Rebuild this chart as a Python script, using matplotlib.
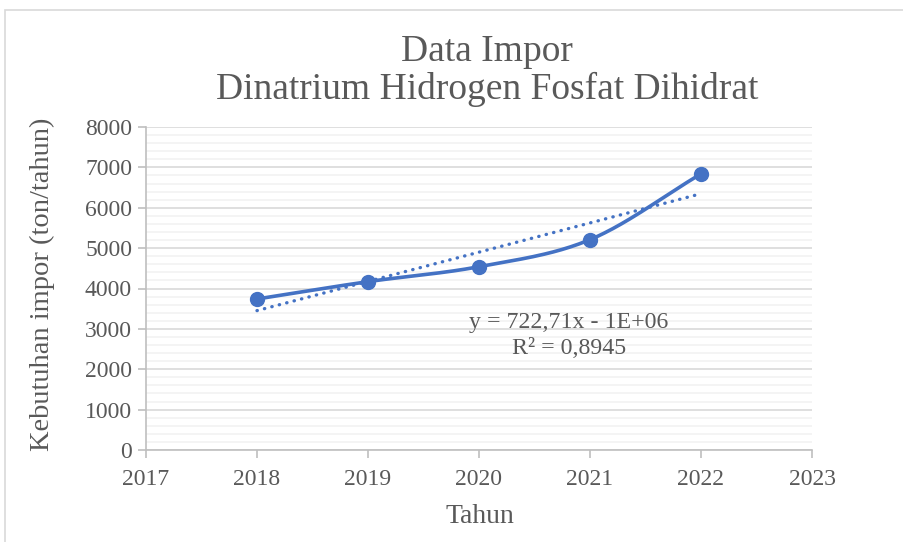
import numpy as np
import matplotlib.pyplot as plt
from matplotlib.patches import Rectangle
from matplotlib.ticker import MultipleLocator

years = [2018, 2019, 2020, 2021, 2022]
impor = [3740, 4170, 4540, 5210, 6840]
x_ticks = [2017, 2018, 2019, 2020, 2021, 2022, 2023]
y_ticks = [0, 1000, 2000, 3000, 4000, 5000, 6000, 7000, 8000]
title = "Data Impor\nDinatrium Hidrogen Fosfat Dihidrat"
eq_text = "y = 722,71x - 1E+06\nR² = 0,8945"

BLUE = "#4472C4"
GREY = "#595959"


def smooth(xs, ys, n=40):
    # Catmull-Rom style smoothing similar to Excel's "smoothed line"
    xs = np.asarray(xs, float)
    ys = np.asarray(ys, float)
    px = np.concatenate([[2 * xs[0] - xs[1]], xs, [2 * xs[-1] - xs[-2]]])
    py = np.concatenate([[2 * ys[0] - ys[1]], ys, [2 * ys[-1] - ys[-2]]])
    outx, outy = [], []
    for i in range(1, len(px) - 2):
        t = np.linspace(0, 1, n)
        for p, out in ((px, outx), (py, outy)):
            p0, p1, p2, p3 = p[i - 1], p[i], p[i + 1], p[i + 2]
            out.extend(0.5 * ((2 * p1) + (-p0 + p2) * t
                              + (2 * p0 - 5 * p1 + 4 * p2 - p3) * t ** 2
                              + (-p0 + 3 * p1 - 3 * p2 + p3) * t ** 3))
    return np.array(outx), np.array(outy)


plt.rcParams['font.family'] = ['Liberation Serif', 'DejaVu Serif']

fig = plt.figure(figsize=(9.04, 5.42), dpi=100)
fig.patches.append(Rectangle((5 / 904, -0.01), 1.0, 1 - 10 / 542 + 0.01,
                             transform=fig.transFigure, fill=False,
                             edgecolor="#D9D9D9", linewidth=1.2))
ax = fig.add_axes([146 / 904, 92 / 542, 666 / 904, 323 / 542])

sx, sy = smooth(years, impor)
ax.plot(sx, sy, color=BLUE, linewidth=2.6, zorder=3, solid_capstyle='round')
ax.plot(years, impor, 'o', color=BLUE, markersize=10, zorder=4)

slope, icpt = np.polyfit(years, impor, 1)
tx = np.array([years[0], years[-1]])
ax.plot(tx, slope * tx + icpt, color=BLUE, linewidth=2.4,
        linestyle=(0, (0.1, 2.2)), dash_capstyle='round', zorder=3)

ax.text(2020.81, 2830, eq_text, ha='center', va='center', fontsize=17.2,
        color=GREY, linespacing=1.3)

ax.set_xlim(2017, 2023)
ax.set_ylim(0, 8000)
ax.set_xticks(x_ticks)
ax.set_yticks(y_ticks)
ax.yaxis.set_minor_locator(MultipleLocator(200))
ax.grid(True, which='major', axis='y', color="#D9D9D9", linewidth=1.2)
ax.grid(True, which='minor', axis='y', color="#F2F2F2", linewidth=1.2)
ax.set_axisbelow(True)
for s in ('top', 'right'):
    ax.spines[s].set_visible(False)
for s in ('left', 'bottom'):
    ax.spines[s].set_color("#BFBFBF")
    ax.spines[s].set_linewidth(1.2)
ax.tick_params(axis='both', which='major', direction='out', length=6,
               color="#BFBFBF", labelsize=17, labelcolor=GREY, width=1.2)
ax.tick_params(axis='x', which='major', pad=8)
ax.tick_params(axis='y', which='major', pad=4)
ax.tick_params(axis='y', which='minor', length=0)

ax.set_xlabel("Tahun", fontsize=20, color=GREY, va='center')
ax.xaxis.set_label_coords(0.5015, -0.207)
ax.set_ylabel("Kebutuhan impor (ton/tahun)", fontsize=20.5, color=GREY, va='center')
ax.yaxis.set_label_coords(-0.156, 0.514)

fig.text(487 / 904, 1 - 71 / 542, title, ha='center', va='center',
         fontsize=27, color=GREY, linespacing=1.12)

fig.savefig("out.png", dpi=100)
